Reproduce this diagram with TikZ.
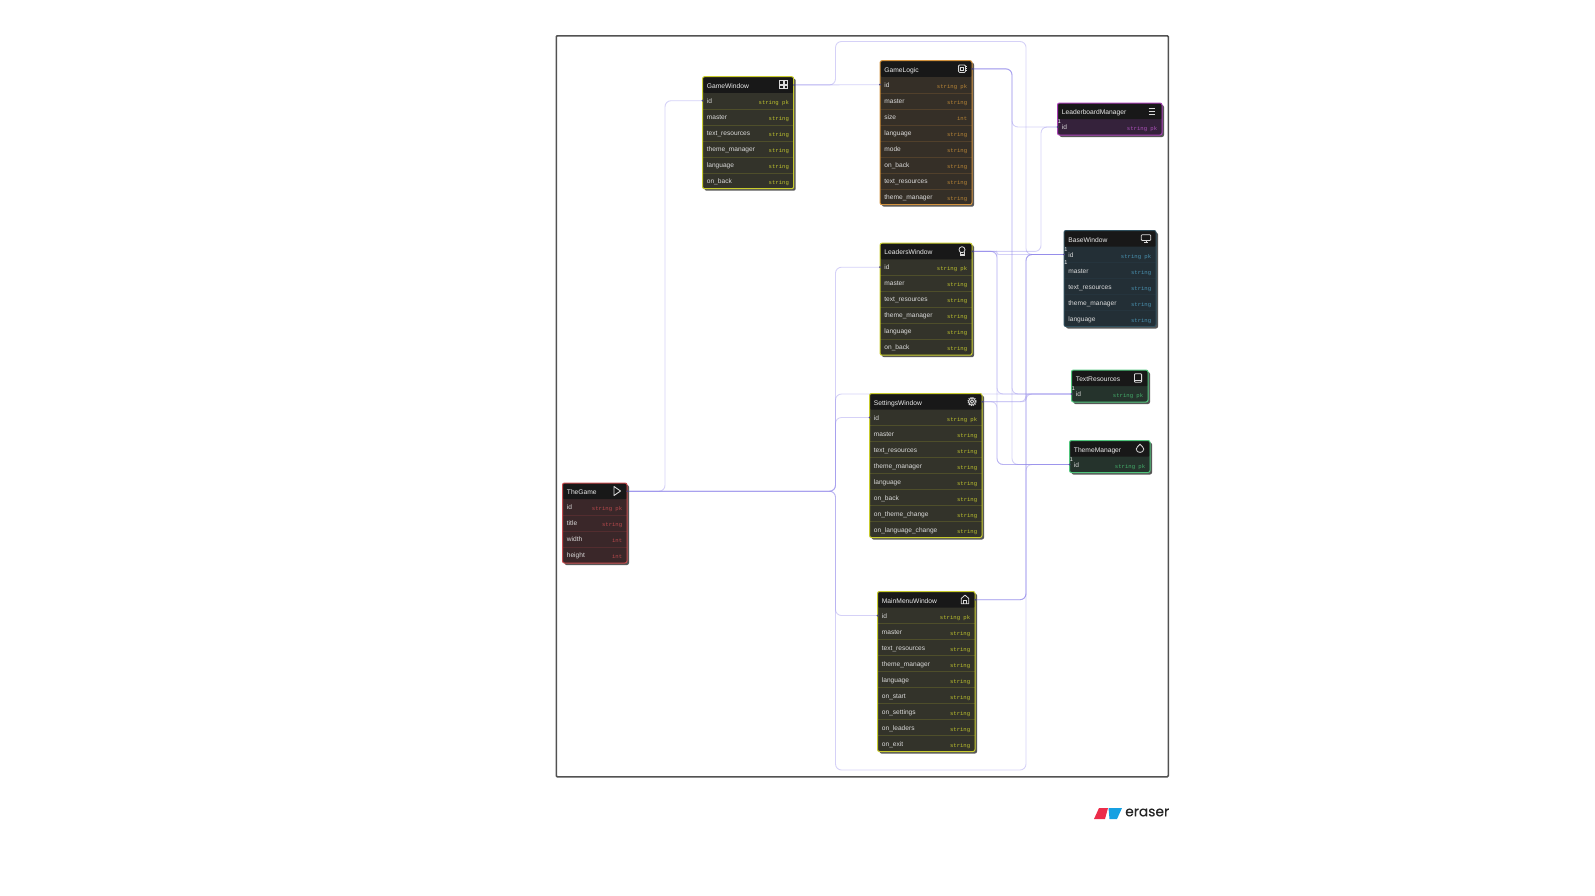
\documentclass[tikz,border=0pt]{standalone}
\usepackage{fontspec}
\setmainfont{Liberation Sans}
\setmonofont{Liberation Mono}
\newfontfamily\logofont[FakeBold=0.4]{Poppins}
\usetikzlibrary{backgrounds}
\definecolor{yelEdge}{HTML}{C9CC2E}\definecolor{yelFill}{HTML}{33332A}\definecolor{yelType}{HTML}{BEC22E}
\definecolor{ornEdge}{HTML}{D2923E}\definecolor{ornFill}{HTML}{352F27}\definecolor{ornType}{HTML}{B98636}
\definecolor{redEdge}{HTML}{C64A4C}\definecolor{redFill}{HTML}{3A2729}\definecolor{redType}{HTML}{B8494C}
\definecolor{purEdge}{HTML}{A83FB4}\definecolor{purFill}{HTML}{35223B}\definecolor{purType}{HTML}{AE50BC}
\definecolor{bluEdge}{HTML}{30505E}\definecolor{bluFill}{HTML}{232F36}\definecolor{bluType}{HTML}{4A93B2}
\definecolor{grnEdge}{HTML}{4FC67C}\definecolor{grnFill}{HTML}{25332C}\definecolor{grnType}{HTML}{43AE6A}
\definecolor{headBlack}{HTML}{181818}
\definecolor{nameGrey}{HTML}{DADADA}
\definecolor{linkBlue}{HTML}{8A80E8}
\tikzset{
  link/.style={draw=linkBlue,line width=0.9pt,opacity=0.36,rounded corners=6pt},
  headbox/.style={fill=headBlack,text=white!92!black,font=\fontsize{6.7}{8}\selectfont,anchor=north west,inner xsep=4.2pt,inner ysep=0pt,minimum height=16pt,text height=8.5pt,text depth=1.5pt,align=left,rounded corners=2pt},
  namelabel/.style={text=nameGrey,font=\fontsize{6.6}{7}\selectfont,anchor=west,inner xsep=4.2pt,inner ysep=0pt,text height=6.6pt,text depth=1.5pt},
  typelabel/.style={font=\ttfamily\fontsize{5.6}{6}\selectfont,anchor=east,inner xsep=4.6pt,inner ysep=0pt,text height=4pt,text depth=1pt},
  onelabel/.style={text=white,font=\fontsize{5.5}{6}\selectfont,inner sep=0pt},
  icon/.style={draw=white!85!black,line width=0.8pt,fill=none},
  port/.style={fill=linkBlue!55!black,draw=none}
}
\newcommand{\icoGrid}{\draw[icon] (-4,-4) rectangle (-0.7,-0.7) (0.7,-4) rectangle (4,-0.7) (-4,0.7) rectangle (-0.7,4) (0.7,0.7) rectangle (4,4);}
\newcommand{\icoChip}{\draw[icon,rounded corners=1pt] (-3.4,-3.8) rectangle (3.4,3.8);\draw[icon] (-1.6,-1.8) rectangle (1.6,1.8) (-4.5,-2)--(-3.4,-2) (-4.5,0)--(-3.4,0) (-4.5,2)--(-3.4,2) (3.4,-2)--(4.5,-2) (3.4,0)--(4.5,0) (3.4,2)--(4.5,2);}
\newcommand{\icoAward}{\draw[icon] (0,-1.5) circle (3);\draw[icon] (-2,1) -- (-2,4.5) -- (2,4.5) -- (2,1) (-2,3)--(2,3);}
\newcommand{\icoGear}{\draw[icon] (0,0) circle (1.8);\draw[icon] (0,0) circle (3.4);\draw[icon,dash pattern=on 1.1pt off 1.1pt,line width=1pt] (0,0) circle (4.2);}
\newcommand{\icoPlay}{\draw[icon,line width=0.9pt,line join=round] (-3,-4.5) -- (3.5,0) -- (-3,4.5) -- cycle;}
\newcommand{\icoMonitor}{\draw[icon,rounded corners=1pt] (-4.8,-3.8) rectangle (4.8,2);\draw[icon] (0,2)--(0,4) (-2,4)--(2,4);}
\newcommand{\icoBook}{\draw[icon,rounded corners=0.8pt] (-3.6,-4.2) rectangle (3.6,4.2);\draw[icon] (-3.6,2.2)--(3.6,2.2);}
\newcommand{\icoDrop}{\draw[icon,line width=0.8pt] (0,-4.3) .. controls (1.5,-2.5) and (3.8,-1) .. (3.8,0.6) .. controls (3.8,5) and (-3.8,5) .. (-3.8,0.6) .. controls (-3.8,-1) and (-1.5,-2.5) .. (0,-4.3) -- cycle;}
\newcommand{\icoMenu}{\draw[icon,line width=1pt] (-3.4,-3)--(3.4,-3) (-3.4,0)--(3.4,0) (-3.4,3)--(3.4,3);}
\newcommand{\icoHome}{\draw[icon,line join=round] (-3.8,4.2) -- (-3.8,-1) -- (0,-4.4) -- (3.8,-1) -- (3.8,4.2) -- cycle;\draw[icon] (-1.2,4.2)--(-1.2,0.8)--(1.2,0.8)--(1.2,4.2);}
% #1 name, #2 left, #3 top, #4 right, #5 rows, #6 theme, #7 title, #8 icon, #9 rows list
\newcommand{\erdtable}[9]{%
  \pgfmathsetmacro{\tw}{#4-#2}
  \pgfmathsetmacro{\tb}{#3+16+16*#5}
  \fill[black!66,rounded corners=2pt] (#2+2,#3+2) rectangle (#4+2,\tb+2);
  \fill[#6Fill,rounded corners=2pt] (#2,#3) rectangle (#4,\tb);
  \node[headbox,minimum width=\tw pt,text width=\tw pt-8.4pt] (#1-h) at (#2,#3) {#7};
  \foreach \nm/\ty [count=\ii from 0] in {#9}{
    \pgfmathsetmacro{\ry}{#3+24+16*\ii}
    \node[namelabel] (#1-r\ii) at (#2,\ry) {\nm};
    \node[typelabel,text=#6Type] (#1-t\ii) at (#4,\ry+2) {\ty};
    \ifnum\ii>0
      \draw[#6Edge,opacity=0.18,line width=0.4pt] (#2,\ry-8) -- (#4,\ry-8);
    \fi
  }
  \begin{scope}[shift={(#4-10,#3+8)}] #8 \end{scope}
  \draw[#6Edge,line width=1pt,rounded corners=2pt] (#2,#3) rectangle (#4,\tb);
}
\newcommand{\routeVia}[3]{\draw[link] (#1) -- (#2 |- #1) -- (#2 |- #3) -- (#3);}
\newcommand{\portdot}[1]{\fill[port] (#1) circle (1pt);}
\begin{document}
\begin{tikzpicture}[x=1pt,y=-1pt]
\useasboundingbox (0,0) rectangle (1595,895);
\node[draw=black!68,line width=1.5pt,rounded corners=1pt,minimum width=612pt,minimum height=741pt,inner sep=0pt,anchor=north west] (frame) at (555.5,35) {};

\erdtable{gw}{702.5}{76.7}{793.7}{6}{yel}{GameWindow}{\icoGrid}{id/string pk,master/string,text\_resources/string,theme\_manager/string,language/string,on\_back/string}
\erdtable{gl}{880}{60.7}{972}{8}{orn}{GameLogic}{\icoChip}{id/string pk,master/string,size/int,language/string,mode/string,on\_back/string,text\_resources/string,theme\_manager/string}
\erdtable{lw}{880}{243.2}{972}{6}{yel}{LeadersWindow}{\icoAward}{id/string pk,master/string,text\_resources/string,theme\_manager/string,language/string,on\_back/string}
\erdtable{sw}{869.5}{393.5}{982}{8}{yel}{SettingsWindow}{\icoGear}{id/string pk,master/string,text\_resources/string,theme\_manager/string,language/string,on\_back/string,on\_theme\_change/string,on\_language\_change/string}
\erdtable{mm}{877.5}{591.5}{975}{9}{yel}{MainMenuWindow}{\icoHome}{id/string pk,master/string,text\_resources/string,theme\_manager/string,language/string,on\_start/string,on\_settings/string,on\_leaders/string,on\_exit/string}
\erdtable{tg}{562.5}{483}{627}{4}{red}{TheGame}{\icoPlay}{id/string pk,title/string,width/int,height/int}
\erdtable{lm}{1057.5}{103}{1162}{1}{pur}{LeaderboardManager}{\icoMenu}{id/string pk}
\erdtable{bw}{1064}{230.5}{1156}{5}{blu}{BaseWindow}{\icoMonitor}{id/string pk,master/string,text\_resources/string,theme\_manager/string,language/string}
\erdtable{tr}{1071.5}{370}{1148}{1}{grn}{TextResources}{\icoBook}{id/string pk}
\erdtable{tm}{1069.5}{440.5}{1150}{1}{grn}{ThemeManager}{\icoDrop}{id/string pk}

\coordinate (busGame) at (665,0);
\coordinate (busLeft) at (835.5,0);
\coordinate (busLog) at (1012,0);
\coordinate (busWin) at (997,0);
\coordinate (busHi) at (1041,0);
\coordinate (busBase) at (1026,0);
\coordinate (railTop) at (0,41.5);
\coordinate (railBot) at (0,770);

\begin{scope}[on background layer]
\routeVia{tg-h.east}{busGame}{gw-r0.west}
\routeVia{tg-h.east}{busLeft}{lw-r0.west}
\routeVia{tg-h.east}{busLeft}{sw-r0.west}
\routeVia{tg-h.east}{busLeft}{mm-r0.west}
\routeVia{tg-h.east}{busLeft}{tr-r0.west}
\draw[link] (tg-h.east) -- (busLeft |- tg-h.east) -- (busLeft |- railBot) -- (busBase |- railBot) -- (busBase |- bw-r0.west) -- (bw-r0.west);
\draw[link] (gw-h.east) -- (gl-r0.west);
\draw[link] (gw-h.east) -- (busLeft |- gw-h.east) -- (busLeft |- railTop) -- (busBase |- railTop) -- (busBase |- bw-r0.west) -- (bw-r0.west);
\routeVia{gl-h.east}{busLog}{lm-r0.west}
\routeVia{gl-h.east}{busLog}{tr-r0.west}
\routeVia{gl-h.east}{busLog}{tm-r0.west}
\routeVia{lw-h.east}{busHi}{lm-r0.west}
\draw[link,rounded corners=2pt] (lw-h.east) -- (busWin |- lw-h.east) -- (busWin |- bw-r0.west) -- (bw-r0.west);
\routeVia{lw-h.east}{busWin}{tr-r0.west}
\routeVia{lw-h.east}{busWin}{tm-r0.west}
\routeVia{sw-h.east}{busBase}{bw-r0.west}
\draw[link,rounded corners=3pt] (sw-h.east) -- (busBase |- sw-h.east) -- (busBase |- tr-r0.west) -- (tr-r0.west);
\routeVia{sw-h.east}{busWin}{tm-r0.west}
\routeVia{mm-h.east}{busBase}{bw-r0.west}
\routeVia{mm-h.east}{busBase}{tr-r0.west}
\routeVia{mm-h.east}{busBase}{tm-r0.west}
\end{scope}

\foreach \p in {tg-h.east,gw-h.east,gl-h.east,lw-h.east,sw-h.east,mm-h.east,gw-r0.west,gl-r0.west,lw-r0.west,sw-r0.west,mm-r0.west,lm-r0.west,bw-r0.west,tr-r0.west,tm-r0.west}{\portdot{\p}}

\node[onelabel] (one1) at (1059.5,121.5) {1};
\node[onelabel] (one2) at (1066,250) {1};
\node[onelabel] (one3) at (1066,263) {1};
\node[onelabel] (one4) at (1073.5,389) {1};
\node[onelabel] (one5) at (1071.5,459.5) {1};

\fill[fill={rgb,255:red,236;green,44;blue,74}] (1094,819) -- (1099,808) -- (1108,808) -- (1105,819) -- cycle;
\fill[fill={rgb,255:red,22;green,160;blue,226}] (1108.5,808) -- (1122,808) -- (1117,819) -- (1109.5,819) -- cycle;
\node[anchor=west,inner sep=0pt,font=\logofont\fontsize{13.8}{16}\selectfont,text=black!85] (logo) at (1125,812.5) {eraser};
\end{tikzpicture}
\end{document}
